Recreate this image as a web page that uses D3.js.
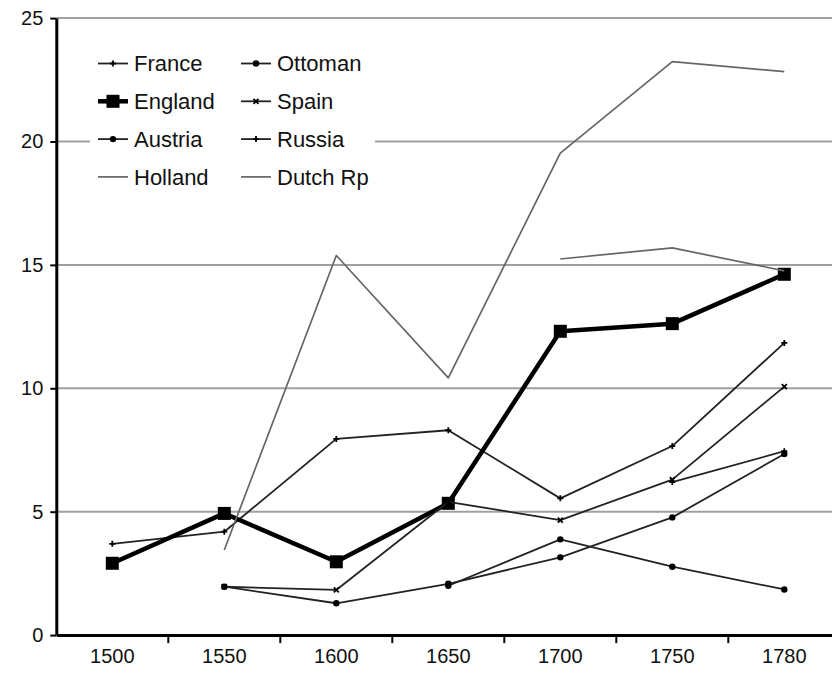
<!DOCTYPE html>
<html>
<head>
<meta charset="utf-8">
<script src="https://cdn.jsdelivr.net/npm/d3@7"></script>
<style>
  body { margin: 0; background: #fff; }
  text { font-family: Arial, "Liberation Sans", sans-serif; fill: #111; }
</style>
</head>
<body>
<svg id="chart" width="832" height="682"></svg>
<script>
// categories (x axis)
const years = ["1500", "1550", "1600", "1650", "1700", "1750", "1780"];
const yTicks = [0, 5, 10, 15, 20, 25];

// series values (null = no data)
const france = [3.7, 4.19, 7.95, 8.3, 5.54, 7.66, 11.84];
const ottoman = [null, null, null, 2.0, 3.88, 2.77, 1.85];
const england = [2.91, 4.93, 2.97, 5.34, 12.31, 12.62, 14.62];
const spain = [null, 1.96, 1.83, 5.4, 4.66, 6.3, 10.07];
const austria = [null, 1.96, 1.29, 2.08, 3.15, 4.77, 7.34];
const russia = [null, null, null, null, null, 6.2, 7.45];
const holland = [null, 3.45, 15.38, 10.42, 19.53, 23.24, 22.83];
const dutchRp = [null, null, null, null, 15.24, 15.69, 14.76];

const series = [
  { name: "France", values: france, marker: "plus" },
  { name: "Ottoman", values: ottoman, marker: "dot" },
  { name: "England", values: england, marker: "square" },
  { name: "Spain", values: spain, marker: "cross" },
  { name: "Austria", values: austria, marker: "dot" },
  { name: "Russia", values: russia, marker: "plus" },
  { name: "Holland", values: holland, marker: "none" },
  { name: "Dutch Rp", values: dutchRp, marker: "none" }
];

const svg = d3.select("#chart");
const LEFT = 56.3;
const BAND = 112;
const TOP = 18.1;
const BOTTOM = 635.1;

const x = d3.scaleBand().domain(years).range([LEFT, LEFT + BAND * years.length]).padding(0);
const y = d3.scaleLinear().domain([0, 25]).range([BOTTOM, TOP]);

// gridlines
svg.append("g")
  .selectAll("line")
  .data(yTicks.filter(d => d > 0))
  .enter()
  .append("line")
  .attr("x1", LEFT)
  .attr("x2", 832)
  .attr("y1", d => y(d))
  .attr("y2", d => y(d))
  .attr("stroke", "#a0a0a0")
  .attr("stroke-width", 2);

// y axis
const yAxis = svg.append("g")
  .attr("transform", `translate(${LEFT},0)`)
  .call(d3.axisLeft(y).tickValues(yTicks).tickSize(6).tickPadding(7).tickSizeOuter(0));
yAxis.select(".domain").attr("stroke", "#000").attr("stroke-width", 3);
yAxis.selectAll(".tick line").attr("stroke", "#000").attr("stroke-width", 2);
yAxis.selectAll("text").attr("font-size", 20).attr("fill", "#111");

// x axis: labels at band centres, ticks at band boundaries
const xAxis = svg.append("g")
  .attr("transform", `translate(0,${BOTTOM})`)
  .call(d3.axisBottom(x).tickSize(0).tickPadding(14).tickSizeOuter(0));
xAxis.select(".domain").attr("stroke", "#000").attr("stroke-width", 3);
xAxis.selectAll("text").attr("font-size", 20).attr("fill", "#111");
xAxis.selectAll(".bound")
  .data(years.slice(1))
  .enter()
  .append("line")
  .attr("x1", d => x(d))
  .attr("x2", d => x(d))
  .attr("y1", 0)
  .attr("y2", 8)
  .attr("stroke", "#000")
  .attr("stroke-width", 2);

// legend (white box hides the 20 gridline)
const legend = svg.append("g");
legend.append("rect")
  .attr("x", 90).attr("y", 44).attr("width", 285).attr("height", 152)
  .attr("fill", "#fff");

function styleOf(s) {
  if (s.name === "England") return { stroke: "#000", width: 4.5 };
  if (s.marker === "none") return { stroke: "#666", width: 1.7 };
  return { stroke: "#222", width: 1.8 };
}

function drawMarker(sel, s, cx, cy) {
  if (s.marker === "square") {
    sel.append("rect")
      .attr("x", cx - 6.5).attr("y", cy - 6.5).attr("width", 13).attr("height", 13)
      .attr("fill", "#000");
  } else if (s.marker === "dot") {
    sel.append("circle").attr("cx", cx).attr("cy", cy).attr("r", 3.2).attr("fill", "#000");
  } else if (s.marker === "plus") {
    sel.append("path")
      .attr("d", `M${cx - 3},${cy}H${cx + 3}M${cx},${cy - 3}V${cy + 3}`)
      .attr("stroke", "#000").attr("stroke-width", 1.8);
  } else if (s.marker === "cross") {
    sel.append("path")
      .attr("d", `M${cx - 2.5},${cy - 2.5}L${cx + 2.5},${cy + 2.5}M${cx + 2.5},${cy - 2.5}L${cx - 2.5},${cy + 2.5}`)
      .attr("stroke", "#000").attr("stroke-width", 1.8);
  }
}

// lines
const line = d3.line()
  .defined(d => d.v != null)
  .x(d => x(d.year) + x.bandwidth() / 2)
  .y(d => y(d.v));

series.forEach(s => {
  const pts = years.map((year, i) => ({ year, v: s.values[i] }));
  const st = styleOf(s);
  const g = svg.append("g");
  g.append("path")
    .datum(pts)
    .attr("d", line)
    .attr("fill", "none")
    .attr("stroke", st.stroke)
    .attr("stroke-width", st.width)
    .attr("stroke-linejoin", "round");
  pts.filter(p => p.v != null).forEach(p => {
    drawMarker(g, s, x(p.year) + x.bandwidth() / 2, y(p.v));
  });
});

// legend entries
series.forEach((s, i) => {
  const col = i % 2;
  const row = Math.floor(i / 2);
  const lx = 98 + col * 143;
  const ly = 63.5 + row * 37.8;
  const st = styleOf(s);
  const item = legend.append("g");
  item.append("line")
    .attr("x1", lx).attr("x2", lx + 30)
    .attr("y1", ly).attr("y2", ly)
    .attr("stroke", st.stroke)
    .attr("stroke-width", st.width);
  drawMarker(item, s, lx + 15, ly);
  item.append("text")
    .attr("x", lx + 36)
    .attr("y", ly)
    .attr("dy", "0.36em")
    .attr("font-size", 22)
    .text(s.name);
});
</script>
</body>
</html>
